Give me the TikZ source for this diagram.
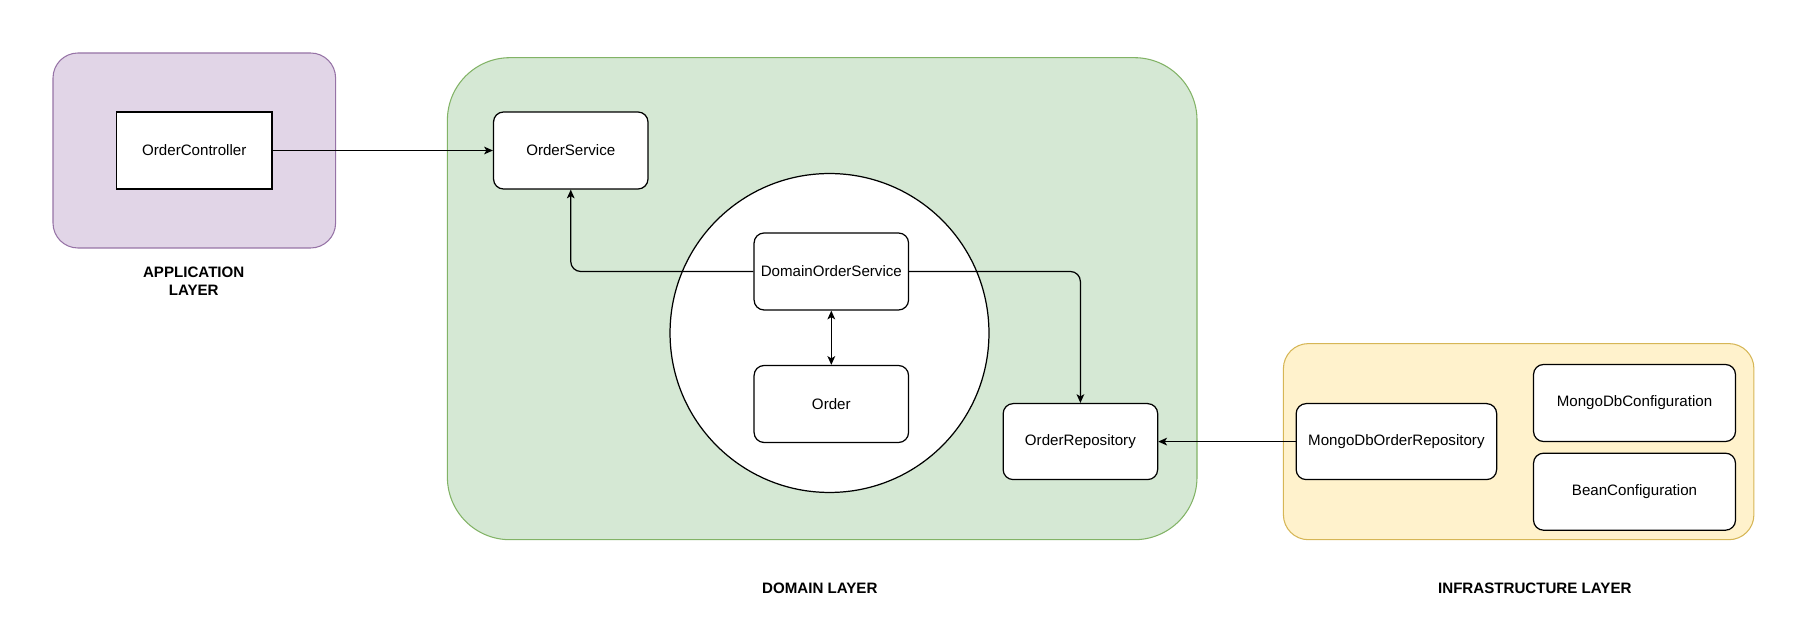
\documentclass[tikz,border=0pt]{standalone}
\usepackage{fontspec}
\setmainfont{Liberation Sans}
\usetikzlibrary{arrows.meta}
\begin{document}
\begin{tikzpicture}[x=0.02cm,y=-0.02cm,
  font=\fontsize{8.6}{10.5}\selectfont,
  box/.style={draw=black,line width=0.7pt,fill=white,rounded corners=0.2cm,inner sep=0pt,align=center},
  sqbox/.style={draw=black,line width=0.7pt,fill=white,inner sep=0pt,align=center},
  arr/.style={draw=black,line width=0.7pt,-{Stealth[length=5pt,width=4.4pt,inset=1.3pt]}},
  darr/.style={draw=black,line width=0.7pt,{Stealth[length=5pt,width=4.4pt,inset=1.3pt]}-{Stealth[length=5pt,width=4.4pt,inset=1.3pt]}},
  lbl/.style={font=\fontsize{8.6}{10.5}\selectfont\bfseries,align=center}]
\definecolor{appfill}{HTML}{E1D5E7}\definecolor{appdraw}{HTML}{9673A6}
\definecolor{domfill}{HTML}{D5E8D4}\definecolor{domdraw}{HTML}{82B366}
\definecolor{inffill}{HTML}{FFF2CC}\definecolor{infdraw}{HTML}{D6B656}
\useasboundingbox (0,0) rectangle (1808,634);
% containers
\draw[fill=appfill,draw=appdraw,line width=0.6pt,rounded corners=0.5cm] (53,53) rectangle (335.6,248);
\draw[fill=domfill,draw=domdraw,line width=0.6pt,rounded corners=1.25cm] (447.4,57.7) rectangle (1197,539.7);
\draw[fill=inffill,draw=infdraw,line width=0.6pt,rounded corners=0.5cm] (1283.4,343.6) rectangle (1753.9,539.7);
% core circle
\node[draw=black,line width=0.7pt,fill=white,circle,minimum size=6.38cm,inner sep=0pt] (core) at (829.5,333) {};
% nodes
\node[sqbox,minimum width=3.11cm,minimum height=1.54cm] (oc) at (194.25,150.5) {OrderController};
\node[box,minimum width=3.09cm,minimum height=1.54cm] (os) at (570.75,150.5) {OrderService};
\node[box,minimum width=3.09cm,minimum height=1.54cm] (dos) at (831.3,271.5) {DomainOrderService};
\node[box,minimum width=3.09cm,minimum height=1.54cm] (ord) at (831.3,404) {Order};
\node[box,minimum width=3.09cm,minimum height=1.52cm] (orep) at (1080.4,441.6) {OrderRepository};
\node[box,minimum width=4.01cm,minimum height=1.52cm] (morep) at (1396.4,441.6) {MongoDbOrderRepository};
\node[box,minimum width=4.04cm,minimum height=1.54cm] (mcfg) at (1634.5,403) {MongoDbConfiguration};
\node[box,minimum width=4.04cm,minimum height=1.54cm] (bcfg) at (1634.5,491.7) {BeanConfiguration};
% labels
\node[lbl] (applbl) at (193.7,281) {APPLICATION\\LAYER};
\node[lbl] (domlbl) at (819.8,588) {DOMAIN LAYER};
\node[lbl] (inflbl) at (1534.8,588) {INFRASTRUCTURE LAYER};
% connectors
\draw[arr] (oc.east) -- (os.west);
\draw[arr,rounded corners=0.2cm] (dos.west) -| (os.south);
\draw[arr,rounded corners=0.2cm] (dos.east) -| (orep.north);
\draw[darr] (dos.south) -- (ord.north);
\draw[arr] (morep.west) -- (orep.east);
\end{tikzpicture}
\end{document}
